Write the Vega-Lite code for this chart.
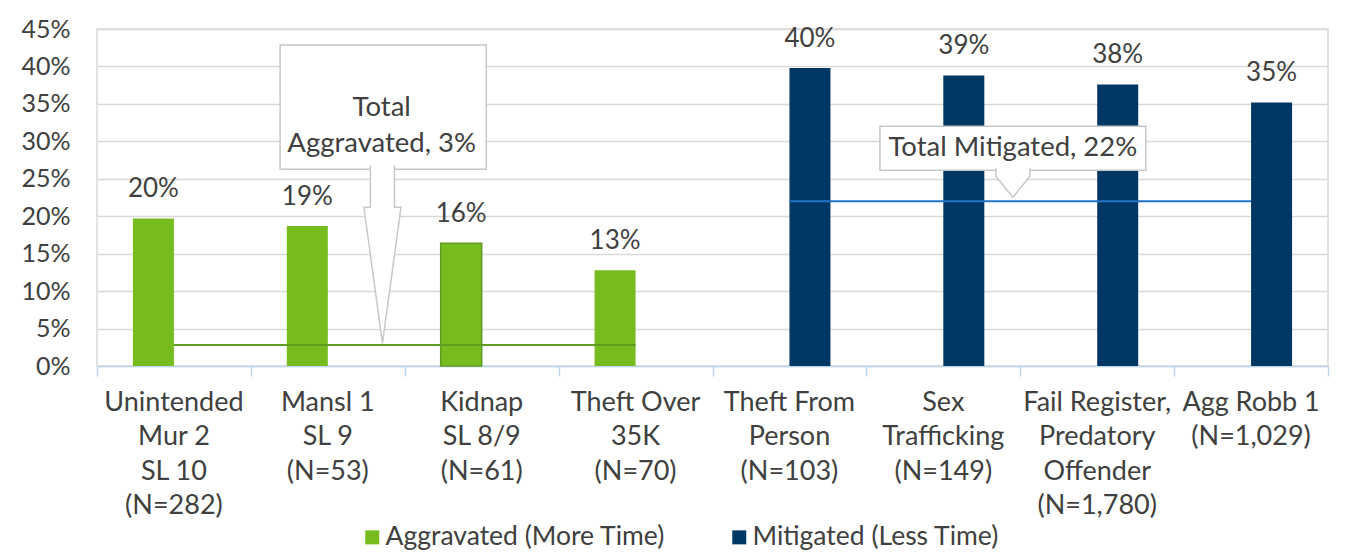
{
  "$schema": "https://vega.github.io/schema/vega-lite/v6.json",
  "width": 1231,
  "height": 337,
  "autosize": "none",
  "padding": {"left": 97, "top": 29, "right": 23, "bottom": 188},
  "background": "white",
  "config": {
    "font": "Lato",
    "view": {"stroke": "#d9d9d9", "strokeWidth": 1.5},
    "axisY": {"domain": false, "ticks": false, "labelFontSize": 25, "labelColor": "#404040", "labelPadding": 27, "gridColor": "#d9d9d9", "gridWidth": 1.5, "title": null, "labelOverlap": false},
    "legend": {"orient": "none", "legendX": 262, "legendY": 495, "direction": "horizontal", "symbolType": "square", "symbolSize": 196, "symbolStrokeWidth": 0, "labelFontSize": 26.5, "labelColor": "#404040", "columnPadding": 60, "labelOffset": 0, "padding": 0, "title": null, "labelLimit": 500}
  },
  "datasets": {
    "bars": [
      {"cat": "Unintended|Mur 2|SL 10|(N=282)", "series": "Aggravated (More Time)", "value": 0.197},
      {"cat": "Mansl 1|SL 9|(N=53)", "series": "Aggravated (More Time)", "value": 0.187},
      {"cat": "Kidnap|SL 8/9|(N=61)", "series": "Aggravated (More Time)", "value": 0.164},
      {"cat": "Theft Over|35K|(N=70)", "series": "Aggravated (More Time)", "value": 0.128},
      {"cat": "Theft From|Person|(N=103)", "series": "Mitigated (Less Time)", "value": 0.398},
      {"cat": "Sex|Trafficking|(N=149)", "series": "Mitigated (Less Time)", "value": 0.388},
      {"cat": "Fail Register,|Predatory|Offender|(N=1,780)", "series": "Mitigated (Less Time)", "value": 0.376},
      {"cat": "Agg Robb 1|(N=1,029)", "series": "Mitigated (Less Time)", "value": 0.352}
    ],
    "totals": [
      {"kind": "agg", "start": 0.5, "end": 3.5, "value": 0.028},
      {"kind": "mit", "start": 4.5, "end": 7.5, "value": 0.22}
    ],
    "boxes": [
      {"kind": "agg", "x1": 1.19, "x2": 2.53, "y1": 0.2628, "y2": 0.4286},
      {"kind": "mit", "x1": 5.088, "x2": 6.816, "y1": 0.2614, "y2": 0.3203}
    ],
    "pointers": [
      {"kind": "agg", "x": 1.855, "y": 0.1491},
      {"kind": "mit", "x": 5.952, "y": 0.2447}
    ],
    "notes": [
      {"kind": "agg", "x": 1.85, "y": 0.3443, "text": ["Total", "Aggravated, 3%"]},
      {"kind": "mit", "x": 5.952, "y": 0.2908, "text": ["Total Mitigated, 22%"]}
    ]
  },
  "layer": [
    {
      "data": {"name": "bars"},
      "encoding": {
        "x": {
          "field": "cat", "type": "nominal", "sort": null,
          "scale": {"paddingInner": 0.467, "paddingOuter": 0.2335},
          "axis": {"orient": "bottom", "title": null, "labelAngle": 0, "ticks": false, "domain": false, "grid": false, "labelExpr": "split(datum.label, '|')", "labelFontSize": 27, "labelColor": "#404040", "labelLineHeight": 34.5, "labelPadding": 23, "labelLimit": 300}
        },
        "xOffset": {"field": "series", "type": "nominal", "scale": {"domain": ["Aggravated (More Time)", "Mitigated (Less Time)"]}},
        "y": {
          "field": "value", "type": "quantitative",
          "scale": {"domain": [0, 0.45], "nice": false, "zero": true},
          "axis": {"values": [0, 0.05, 0.1, 0.15, 0.2, 0.25, 0.3, 0.35, 0.4, 0.45], "format": ".0%", "title": null}
        }
      },
      "layer": [
        {
          "mark": {"type": "bar", "strokeWidth": 1.5},
          "encoding": {
            "color": {"field": "series", "type": "nominal", "scale": {"domain": ["Aggravated (More Time)", "Mitigated (Less Time)"], "range": ["#77bc1f", "#003764"]}},
            "stroke": {"condition": {"test": "datum.cat === 'Kidnap|SL 8/9|(N=61)'", "value": "#5e9c22"}, "value": null}
          }
        },
        {
          "mark": {"type": "text", "dy": -21, "baseline": "alphabetic", "fontSize": 26, "color": "#404040"},
          "encoding": {"text": {"field": "value", "type": "quantitative", "format": ".0%"}}
        }
      ]
    },
    {
      "layer": [
        {
          "data": {"name": "totals"},
          "mark": {"type": "rule", "strokeWidth": 2},
          "encoding": {
            "x": {"field": "start", "type": "quantitative", "scale": {"domain": [0, 8], "nice": false, "zero": false}, "axis": {"values": [0, 1, 2, 3, 4, 5, 6, 7, 8], "labels": false, "ticks": true, "tickSize": 10, "tickColor": "#bdd7ee", "tickWidth": 1.5, "domain": true, "domainColor": "#bdd7ee", "domainWidth": 1.5, "grid": false, "title": null, "orient": "bottom"}},
            "x2": {"field": "end"},
            "y": {"field": "value", "type": "quantitative", "axis": {"values": [0, 0.05, 0.1, 0.15, 0.2, 0.25, 0.3, 0.35, 0.4, 0.45], "format": ".0%", "title": null}},
            "stroke": {"condition": {"test": "datum.kind === 'agg'", "value": "#5e9c22"}, "value": "#1f74c9"}
          }
        },
        {
          "data": {"name": "boxes"},
          "mark": {"type": "rect", "fill": "white", "stroke": "#c8c8c8", "strokeWidth": 1.5},
          "encoding": {
            "x": {"field": "x1", "type": "quantitative"},
            "x2": {"field": "x2"},
            "y": {"field": "y1", "type": "quantitative", "axis": {"values": [0, 0.05, 0.1, 0.15, 0.2, 0.25, 0.3, 0.35, 0.4, 0.45], "format": ".0%", "title": null}},
            "y2": {"field": "y2"}
          }
        },
        {
          "data": {"name": "pointers"},
          "transform": [{"filter": "datum.kind === 'agg'"}],
          "mark": {"type": "point", "filled": true, "fill": "white", "opacity": 1, "stroke": "#c8c8c8", "strokeWidth": 1.5, "size": 31684, "shape": "M-0.135,-1 L-0.135,-0.528 L-0.208,-0.528 L0,1 L0.208,-0.528 L0.135,-0.528 L0.135,-1"},
          "encoding": {
            "x": {"field": "x", "type": "quantitative"},
            "y": {"field": "y", "type": "quantitative", "axis": {"values": [0, 0.05, 0.1, 0.15, 0.2, 0.25, 0.3, 0.35, 0.4, 0.45], "format": ".0%", "title": null}}
          }
        },
        {
          "data": {"name": "pointers"},
          "transform": [{"filter": "datum.kind === 'mit'"}],
          "mark": {"type": "point", "filled": true, "fill": "white", "opacity": 1, "stroke": "#c8c8c8", "strokeWidth": 1.5, "size": 841, "shape": "M-1.17,-1 L-1.17,-0.45 L0,1 L1.17,-0.45 L1.17,-1"},
          "encoding": {
            "x": {"field": "x", "type": "quantitative"},
            "y": {"field": "y", "type": "quantitative", "axis": {"values": [0, 0.05, 0.1, 0.15, 0.2, 0.25, 0.3, 0.35, 0.4, 0.45], "format": ".0%", "title": null}}
          }
        },
        {
          "data": {"name": "notes"},
          "mark": {"type": "text", "fontSize": 27.5, "color": "#404040", "baseline": "middle", "align": "center", "lineHeight": 36},
          "encoding": {
            "x": {"field": "x", "type": "quantitative"},
            "y": {"field": "y", "type": "quantitative", "axis": {"values": [0, 0.05, 0.1, 0.15, 0.2, 0.25, 0.3, 0.35, 0.4, 0.45], "format": ".0%", "title": null}},
            "text": {"field": "text"}
          }
        }
      ]
    }
  ],
  "resolve": {"scale": {"x": "independent"}, "axis": {"x": "independent"}}
}
